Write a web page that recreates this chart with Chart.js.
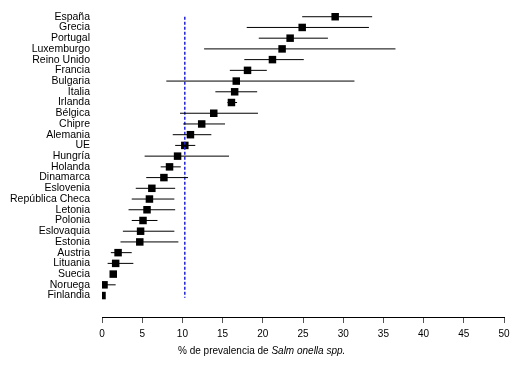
<meta charset="UTF-8">
<title>Prevalencia Salmonella</title>
<script src="https://cdn.jsdelivr.net/npm/chart.js"></script>
<style>
  body { margin: 0; background: #fff; }
  #wrap { position: relative; width: 510px; height: 365px; }
  #xtitle { position: absolute; left: 178px; top: 345px; font: 10px "Liberation Sans", Arial, sans-serif; color: #000; white-space: nowrap; }
</style>
<script>
var countries = ['España','Grecia','Portugal','Luxemburgo','Reino Unido','Francia','Bulgaria','Italia','Irlanda','Bélgica','Chipre','Alemania','UE','Hungría','Holanda','Dinamarca','Eslovenia','República Checa','Letonia','Polonia','Eslovaquia','Estonia','Austria','Lituania','Suecia','Noruega','Finlandia'];
var prevalence = [29.0, 24.9, 23.4, 22.4, 21.2, 18.1, 16.7, 16.5, 16.1, 13.9, 12.4, 11.0, 10.3, 9.4, 8.4, 7.7, 6.2, 5.9, 5.6, 5.1, 4.8, 4.7, 2.0, 1.7, 1.4, 0.25, 0.0];
var lower = [24.9, 18.0, 19.5, 12.7, 17.7, 15.9, 8.0, 14.1, 15.6, 9.7, 10.1, 8.8, 9.1, 5.3, 7.3, 5.5, 4.2, 3.7, 3.3, 3.7, 2.6, 2.3, 1.1, 0.7, 1.1, 0.0, 0.0];
var upper = [33.6, 33.2, 28.1, 36.5, 25.1, 20.5, 31.4, 19.3, 16.8, 19.4, 15.3, 13.6, 11.6, 15.8, 9.8, 10.7, 9.1, 9.0, 9.1, 6.9, 9.0, 9.5, 3.7, 3.9, 1.7, 1.7, 0.0];
var euMean = 10.3;
var xTicks = [0, 5, 10, 15, 20, 25, 30, 35, 40, 45, 50];
</script>
<html>
<body>
<div id="wrap">
  <canvas id="forest" width="510" height="365"></canvas>
  <div id="xtitle">% de prevalencia de <i>Salm onella spp.</i></div>
</div>
<script>
var datasets = [];

// horizontal interval lines, one per country
for (var i = 0; i < countries.length; i++) {
    datasets.push({
        type: 'line',
        data: [{x: lower[i], y: i}, {x: upper[i], y: i}],
        borderColor: '#000',
        borderWidth: 1,
        pointRadius: 0,
        fill: false
    });
}

// EU reference line
datasets.push({
    type: 'line',
    data: [{x: euMean, y: 0}, {x: euMean, y: countries.length - 1 + 0.2}],
    borderColor: '#1a1aff',
    borderWidth: 1.5,
    borderDash: [3, 2],
    pointRadius: 0,
    fill: false
});

// point estimates
datasets.push({
    type: 'scatter',
    data: prevalence.map(function(v, i){ return {x: v, y: i}; }),
    backgroundColor: '#000',
    borderColor: '#000',
    borderWidth: 0,
    pointStyle: 'rect',
    pointRadius: 5.3
});

new Chart(document.getElementById('forest'), {
    type: 'scatter',
    data: { datasets: datasets },
    options: {
        responsive: false,
        animation: false,
        events: [],
        layout: { padding: { top: 6, left: 0, right: 6, bottom: 0 } },
        plugins: { legend: { display: false }, tooltip: { enabled: false } },
        scales: {
            x: {
                type: 'linear',
                min: 0,
                max: 50,
                afterBuildTicks: function(scale){
                    scale.ticks = xTicks.map(function(v){ return {value: v}; });
                },
                afterFit: function(scale){
                    scale.height = 48;
                    scale.paddingLeft = 0;
                    scale.paddingRight = 0;
                },
                border: { display: true, color: '#000', width: 1 },
                grid: { drawOnChartArea: false, drawTicks: true, tickLength: 6, color: '#555' },
                ticks: {
                    color: '#000',
                    padding: 5,
                    maxRotation: 0,
                    font: { family: 'Liberation Sans', size: 10 }
                }
            },
            y: {
                type: 'linear',
                reverse: true,
                min: -1,
                max: 28,
                afterBuildTicks: function(scale){
                    scale.ticks = countries.map(function(c, i){ return {value: i}; });
                },
                afterFit: function(scale){
                    scale.width = 102;
                    scale.paddingTop = 0;
                    scale.paddingBottom = 0;
                },
                border: { display: false },
                grid: { display: false, drawTicks: false },
                ticks: {
                    color: '#000',
                    padding: 12,
                    autoSkip: false,
                    font: { family: 'Liberation Sans', size: 10.5 },
                    callback: function(v){ return countries[v] || ''; }
                }
            }
        }
    }
});
</script>
</body>
</html>
